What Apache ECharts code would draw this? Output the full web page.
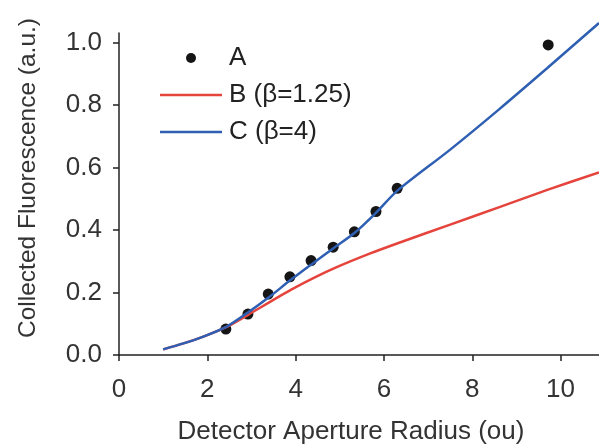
<!DOCTYPE html>
<html>
<head>
<meta charset="utf-8">
<script src="https://cdn.jsdelivr.net/npm/echarts@6/dist/echarts.min.js"></script>
<style>
  html, body { margin: 0; padding: 0; background: #fff; }
  #chart { width: 599px; height: 445px; }
</style>
</head>
<body>
<div id="chart"></div>
<script>
// Measured collected fluorescence (A)
const measuredRadius = [2.42, 2.92, 3.38, 3.87, 4.35, 4.85, 5.33, 5.82, 6.30, 9.72];
const measuredSignal = [0.083, 0.131, 0.195, 0.250, 0.302, 0.345, 0.394, 0.459, 0.533, 0.992];

// Model curve B (beta = 1.25)
const modelBRadius = [1.0, 1.46, 1.91, 2.44, 2.95, 3.42, 3.9, 4.4, 4.93, 5.69, 6.36, 7.5, 8.63, 9.7, 10.87];
const modelBSignal = [0.018, 0.037, 0.059, 0.090, 0.131, 0.170, 0.209, 0.246, 0.281, 0.325, 0.360, 0.417, 0.474, 0.528, 0.584];

// Model curve C (beta = 4)
const modelCRadius = [1.0, 1.46, 1.91, 2.44, 2.9, 3.38, 3.87, 4.35, 4.85, 5.33, 5.82, 6.3, 7.5, 8.6, 9.7, 10.87];
const modelCSignal = [0.018, 0.037, 0.059, 0.091, 0.134, 0.183, 0.238, 0.289, 0.341, 0.390, 0.455, 0.525, 0.657, 0.785, 0.918, 1.062];

const seriesNames = ['A', 'B (\u03B2=1.25)', 'C (\u03B2=4)'];
const xTickValues = [0, 2, 4, 6, 8, 10];
const yTickValues = [0, 0.2, 0.4, 0.6, 0.8, 1.0];

const FONT = "'Liberation Sans', Arial, Helvetica, sans-serif";
const TEXT_COLOR = '#333';
const AXIS_COLOR = '#222';
// flat bar used as the legend key of the model curves
const LINE_KEY = 'path://M0,0 L62,0 L62,2.5 L0,2.5 Z';

const zip = (xs, ys) => xs.map((x, i) => [x, ys[i]]);

const chart = echarts.init(document.getElementById('chart'), null, { renderer: 'canvas' });

chart.setOption({
  backgroundColor: '#fff',
  animation: false,
  grid: { left: 119, right: 0, top: 33, bottom: 90, containLabel: false },
  legend: {
    orient: 'vertical',
    left: 155,
    top: 40,
    itemWidth: 62,
    itemHeight: 10,
    itemGap: 11,
    textStyle: { fontFamily: FONT, fontSize: 26, color: '#222', lineHeight: 26, padding: [0, 0, 0, 2] },
    data: [
      { name: seriesNames[0], icon: 'circle' },
      { name: seriesNames[1], icon: LINE_KEY, symbolKeepAspect: true },
      { name: seriesNames[2], icon: LINE_KEY, symbolKeepAspect: true }
    ]
  },
  xAxis: {
    type: 'value',
    min: 0,
    max: 10.87,
    axisLine: { show: true, onZero: false, lineStyle: { color: AXIS_COLOR, width: 1.5 } },
    axisTick: { show: true, inside: false, length: 6, customValues: xTickValues, lineStyle: { color: AXIS_COLOR, width: 1.5 } },
    axisLabel: { customValues: xTickValues, margin: 22, fontFamily: FONT, fontSize: 26, color: TEXT_COLOR },
    splitLine: { show: false }
  },
  yAxis: {
    type: 'value',
    min: 0,
    max: 1.03,
    axisLine: { show: true, onZero: false, lineStyle: { color: AXIS_COLOR, width: 1.5 } },
    axisTick: { show: true, inside: false, length: 6, customValues: yTickValues, lineStyle: { color: AXIS_COLOR, width: 1.5 } },
    axisLabel: {
      customValues: yTickValues, margin: 17, fontFamily: FONT, fontSize: 26, color: TEXT_COLOR,
      formatter: v => v.toFixed(1)
    },
    splitLine: { show: false }
  },
  graphic: [
    {
      type: 'text',
      x: 351,
      y: 432,
      style: {
        text: 'Detector Aperture Radius (ou)',
        fontFamily: FONT, fontSize: 26, fill: TEXT_COLOR,
        align: 'center', verticalAlign: 'middle'
      }
    },
    {
      type: 'text',
      x: 28,
      y: 178,
      rotation: Math.PI / 2,
      style: {
        text: 'Collected Fluorescence (a.u.)',
        fontFamily: FONT, fontSize: 24.5, fill: TEXT_COLOR,
        align: 'center', verticalAlign: 'middle'
      }
    }
  ],
  series: [
    {
      name: seriesNames[0],
      type: 'scatter',
      symbol: 'circle',
      symbolSize: 11,
      itemStyle: { color: '#151515', opacity: 1 },
      data: zip(measuredRadius, measuredSignal)
    },
    {
      name: seriesNames[1],
      type: 'line',
      symbol: 'none',
      smooth: 0.3,
      clip: false,
      lineStyle: { color: '#e5443d', width: 2.5 },
      itemStyle: { color: '#e5443d' },
      data: zip(modelBRadius, modelBSignal)
    },
    {
      name: seriesNames[2],
      type: 'line',
      symbol: 'none',
      smooth: 0.3,
      clip: false,
      lineStyle: { color: '#2e5fb2', width: 2.5 },
      itemStyle: { color: '#2e5fb2' },
      data: zip(modelCRadius, modelCSignal)
    }
  ]
});
</script>
</body>
</html>
